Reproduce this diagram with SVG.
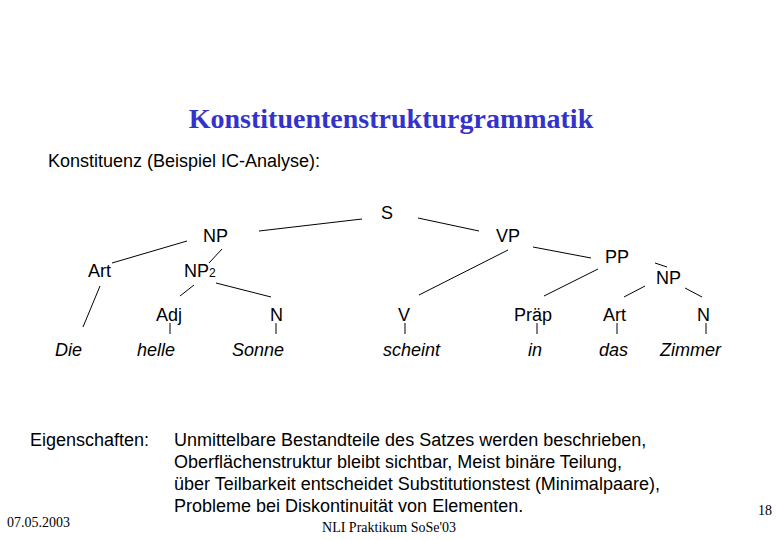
<svg xmlns="http://www.w3.org/2000/svg" width="779" height="540" viewBox="0 0 779 540">
<style>
.t{font-family:"Liberation Sans",Arial,sans-serif;font-size:18px;fill:#000}
.i{font-style:italic}
.f{font-family:"Liberation Serif","Times New Roman",serif;font-size:14px;fill:#000}
.ttl{font-family:"Liberation Serif","Times New Roman",serif;font-size:28px;font-weight:bold;fill:#3333cc}
.c line{stroke:#000;stroke-width:1}
</style>
<rect width="779" height="540" fill="#fff"/>
<text class="ttl" x="391" y="128" text-anchor="middle">Konstituentenstrukturgrammatik</text>
<text class="t" x="48" y="167">Konstituenz (Beispiel IC-Analyse):</text>
<g class="c">
<line x1="259" y1="231" x2="362" y2="219"/>
<line x1="418" y1="218" x2="479" y2="231"/>
<line x1="187" y1="241" x2="112" y2="263"/>
<line x1="222" y1="249" x2="209" y2="263"/>
<line x1="100" y1="286" x2="83" y2="327"/>
<line x1="194" y1="285" x2="180" y2="296"/>
<line x1="216" y1="283" x2="271" y2="297"/>
<line x1="170" y1="323" x2="170" y2="334"/>
<line x1="276" y1="323" x2="276" y2="334"/>
<line x1="508" y1="250" x2="419" y2="295"/>
<line x1="533" y1="247" x2="591" y2="258"/>
<line x1="598" y1="269" x2="544" y2="296"/>
<line x1="655" y1="263" x2="667" y2="267"/>
<line x1="645" y1="286" x2="624" y2="297"/>
<line x1="685" y1="288" x2="702" y2="297"/>
<line x1="405" y1="323" x2="405" y2="334"/>
<line x1="537" y1="323" x2="537" y2="334"/>
<line x1="617" y1="323" x2="617" y2="334"/>
<line x1="706" y1="323" x2="706" y2="334"/>
</g>
<g id="n-S"><text class="t" x="381" y="219">S</text></g>
<g id="n-NP"><text class="t" x="203" y="242">NP</text></g>
<g id="n-VP"><text class="t" x="496" y="242">VP</text></g>
<g id="n-Art1"><text class="t" x="88" y="277">Art</text></g>
<g id="n-NP2"><text class="t" x="184" y="277">NP<tspan font-size="12">2</tspan></text></g>
<g id="n-PP"><text class="t" x="605" y="263">PP</text></g>
<g id="n-NP3"><text class="t" x="656" y="284">NP</text></g>
<g id="n-Adj"><text class="t" x="156" y="321">Adj</text></g>
<g id="n-N1"><text class="t" x="270" y="321">N</text></g>
<g id="n-V"><text class="t" x="398" y="321">V</text></g>
<g id="n-Praep"><text class="t" x="514" y="321">Präp</text></g>
<g id="n-Art2"><text class="t" x="603" y="321">Art</text></g>
<g id="n-N2"><text class="t" x="697" y="321">N</text></g>
<g id="w-Die"><text class="t i" x="55" y="356">Die</text></g>
<g id="w-helle"><text class="t i" x="137" y="356">helle</text></g>
<g id="w-Sonne"><text class="t i" x="232" y="356">Sonne</text></g>
<g id="w-scheint"><text class="t i" x="383" y="356">scheint</text></g>
<g id="w-in"><text class="t i" x="528" y="356">in</text></g>
<g id="w-das"><text class="t i" x="599" y="356">das</text></g>
<g id="w-Zimmer"><text class="t i" x="660" y="356">Zimmer</text></g>
<text class="t" x="30" y="446">Eigenschaften:</text>
<text class="t" x="174" y="446">Unmittelbare Bestandteile des Satzes werden beschrieben,</text>
<text class="t" x="174" y="468">Oberflächenstruktur bleibt sichtbar, Meist binäre Teilung,</text>
<text class="t" x="174" y="490">über Teilbarkeit entscheidet Substitutionstest (Minimalpaare),</text>
<text class="t" x="174" y="512">Probleme bei Diskontinuität von Elementen.</text>
<text class="f" x="7" y="527">07.05.2003</text>
<text class="f" x="389" y="532" text-anchor="middle">NLI Praktikum SoSe'03</text>
<text class="f" x="758" y="515">18</text>
</svg>
